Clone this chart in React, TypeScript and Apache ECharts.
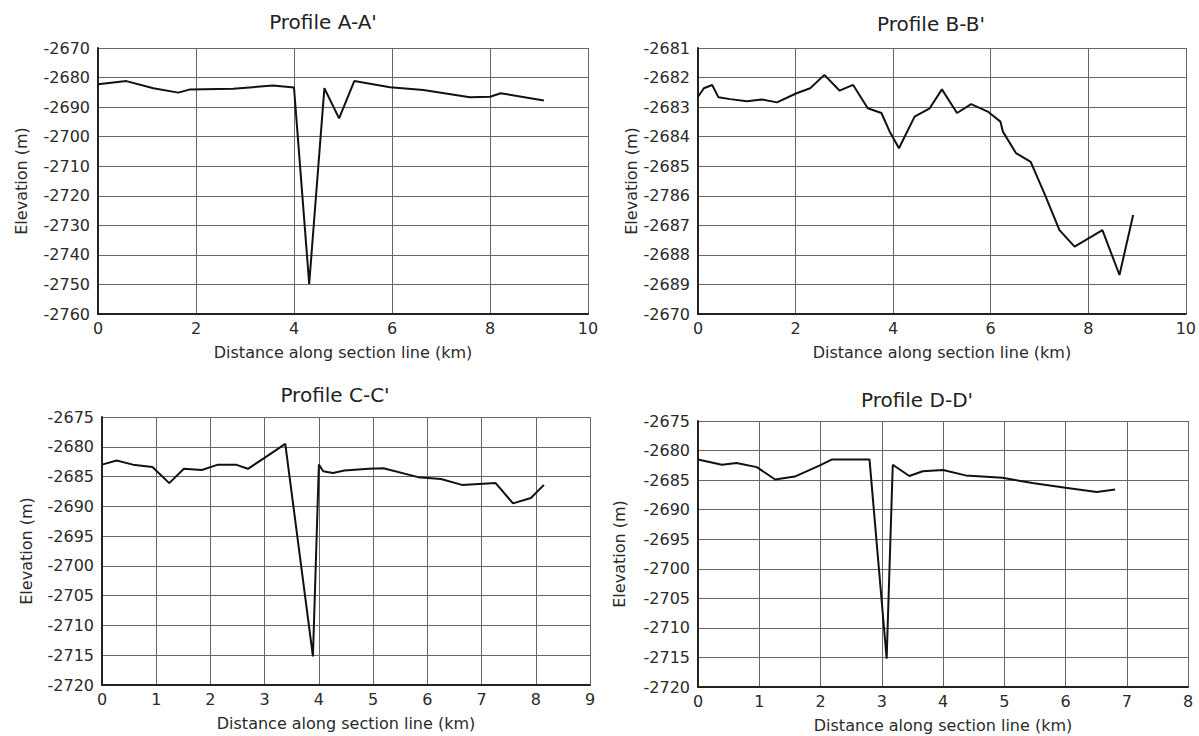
import React, { useEffect, useRef } from "react";
import * as echarts from "echarts";

// ---------- Data ----------
const titles = ["Profile A-A'", "Profile B-B'", "Profile C-C'", "Profile D-D'"];
const xAxisName = "Distance along section line (km)";
const yAxisName = "Elevation (m)";

const distA = [0, 0.58, 1.13, 1.64, 1.88, 2.76, 3.57, 4.0, 4.31, 4.62, 4.92, 5.23, 5.96, 6.64, 7.59, 8.0, 8.22, 9.1];
const elevA = [-2682.3, -2681.2, -2683.6, -2685.1, -2684.0, -2683.8, -2682.7, -2683.4, -2749.8, -2683.6, -2693.8, -2681.2, -2683.3, -2684.2, -2686.7, -2686.5, -2685.3, -2687.8];

const distB = [0, 0.12, 0.29, 0.42, 0.66, 1.0, 1.31, 1.62, 2.02, 2.3, 2.59, 2.9, 3.18, 3.48, 3.76, 3.93, 4.12, 4.44, 4.75, 5.0, 5.31, 5.6, 5.94, 6.2, 6.25, 6.52, 6.82, 7.1, 7.41, 7.72, 8.29, 8.64, 8.92];
const elevB = [-2682.65, -2682.36, -2682.25, -2682.67, -2682.73, -2682.8, -2682.74, -2682.84, -2682.53, -2682.36, -2681.91, -2682.44, -2682.25, -2683.04, -2683.2, -2683.83, -2684.39, -2683.32, -2683.04, -2682.4, -2683.2, -2682.9, -2683.15, -2683.49, -2683.83, -2684.56, -2684.85, -2685.92, -2687.16, -2687.72, -2687.16, -2688.68, -2686.65];
// tick labels of profile B, bottom to top, as printed
const bTickLabels = ["-2670", "-2689", "-2688", "-2687", "-2786", "-2685", "-2684", "-2683", "-2682", "-2681"];

const distC = [0, 0.27, 0.57, 0.93, 1.24, 1.51, 1.84, 2.14, 2.47, 2.69, 2.99, 3.38, 3.89, 4.0, 4.08, 4.26, 4.47, 4.92, 5.19, 5.83, 6.25, 6.64, 7.26, 7.58, 7.91, 8.15];
const elevC = [-2683.0, -2682.3, -2683.0, -2683.4, -2686.1, -2683.7, -2683.9, -2683.0, -2683.0, -2683.7, -2681.9, -2679.5, -2715.2, -2683.0, -2684.1, -2684.4, -2684.0, -2683.7, -2683.6, -2685.1, -2685.4, -2686.4, -2686.1, -2689.5, -2688.6, -2686.4];

const distD = [0, 0.39, 0.63, 0.96, 1.26, 1.58, 1.99, 2.19, 2.8, 3.08, 3.18, 3.45, 3.67, 4.0, 4.37, 4.97, 5.46, 6.0, 6.51, 6.81];
const elevD = [-2681.5, -2682.4, -2682.1, -2682.8, -2684.9, -2684.4, -2682.5, -2681.5, -2681.5, -2715.2, -2682.4, -2684.3, -2683.5, -2683.3, -2684.2, -2684.6, -2685.5, -2686.3, -2687.0, -2686.6];

const xRanges = [
  { min: 0, max: 10, interval: 2 },
  { min: 0, max: 10, interval: 2 },
  { min: 0, max: 9, interval: 1 },
  { min: 0, max: 8, interval: 1 },
];
const yRanges = [
  { min: -2760, max: -2670, interval: 10 },
  { min: -2690, max: -2681, interval: 1 },
  { min: -2720, max: -2675, interval: 5 },
  { min: -2720, max: -2675, interval: 5 },
];

// ---------- Layout ----------
const FONT = "DejaVu Sans";
const grids = [
  { left: 98, top: 48, width: 490, height: 266 },
  { left: 698, top: 48, width: 489, height: 266 },
  { left: 102, top: 417, width: 488, height: 268 },
  { left: 698, top: 421, width: 490, height: 266 },
];
const titlePos = [
  { left: 323, top: 12 },
  { left: 931, top: 14 },
  { left: 335, top: 385 },
  { left: 917, top: 390 },
];
const yNameGaps = [69, 59, 68, 71];

export default function App() {
  const ref = useRef<HTMLDivElement>(null);
  useEffect(() => {
    if (!ref.current) return;
    const chart = echarts.init(ref.current, undefined, { renderer: "svg" });
    const dists = [distA, distB, distC, distD];
    const elevs = [elevA, elevB, elevC, elevD];

    const splitLine = { show: true, lineStyle: { color: "#666", width: 1 } };
    const axisLine = { show: true, onZero: false, lineStyle: { color: "#222", width: 2 } };
    const labelStyle = { fontFamily: FONT, fontSize: 16, color: "#2a2a2a" };

    const option: any = {
      animation: false,
      backgroundColor: "#fff",
      title: titles.map((t, i) => ({
        text: t,
        left: titlePos[i].left,
        top: titlePos[i].top,
        textAlign: "center",
        padding: 0,
        textStyle: { fontFamily: FONT, fontSize: 20, fontWeight: "normal", color: "#222" },
      })),
      grid: grids.map((g) => ({ ...g, containLabel: false })),
      xAxis: xRanges.map((r, i) => ({
        type: "value",
        gridIndex: i,
        min: r.min,
        max: r.max,
        interval: r.interval,
        name: xAxisName,
        nameLocation: "middle",
        nameGap: 30,
        nameTextStyle: labelStyle,
        axisLine,
        axisTick: { show: false },
        axisLabel: { ...labelStyle, margin: 6 },
        splitLine,
      })),
      yAxis: yRanges.map((r, i) => ({
        type: "value",
        gridIndex: i,
        min: r.min,
        max: r.max,
        interval: r.interval,
        name: yAxisName,
        nameLocation: "middle",
        nameGap: yNameGaps[i],
        nameTextStyle: labelStyle,
        axisLine,
        axisTick: { show: false },
        axisLabel: {
          ...labelStyle,
          margin: 8,
          formatter:
            i === 1
              ? (v: number) => bTickLabels[Math.round(v - r.min)] ?? String(v)
              : (v: number) => String(v),
        },
        splitLine,
      })),
      series: dists.map((d, i) => ({
        type: "line",
        xAxisIndex: i,
        yAxisIndex: i,
        data: d.map((x, j) => [x, elevs[i][j]]),
        showSymbol: false,
        symbol: "none",
        lineStyle: { color: "#111", width: 2 },
        z: 5,
      })),
    };
    chart.setOption(option);
    return () => chart.dispose();
  }, []);
  return (
    <div
      ref={ref}
      style={{ position: "absolute", left: 0, top: 0, width: 1199, height: 736 }}
    />
  );
}
